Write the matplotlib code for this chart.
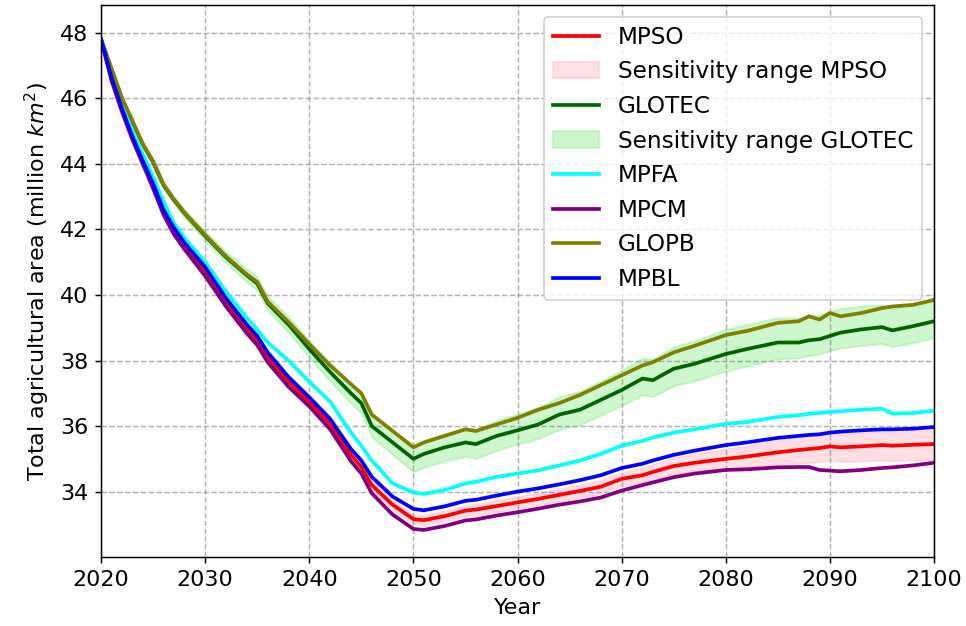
import matplotlib
matplotlib.use("Agg")
import matplotlib.pyplot as plt

years = [2020, 2021, 2022, 2023, 2024, 2025, 2026, 2027, 2028, 2030,
         2032, 2034, 2035, 2036, 2038, 2040, 2042, 2044, 2045, 2046,
         2048, 2050, 2051, 2053, 2055, 2056, 2058, 2060, 2062, 2064,
         2066, 2068, 2070, 2072, 2073, 2075, 2077, 2080, 2082, 2085,
         2087, 2088, 2089, 2090, 2091, 2093, 2095, 2096, 2098, 2100]

mpso = [47.8, 46.6, 45.65, 44.8, 44.05, 43.35, 42.55, 41.95, 41.5, 40.72,
        39.8, 38.97, 38.62, 38.1, 37.36, 36.74, 36.06, 35.12, 34.75, 34.2,
        33.6, 33.16, 33.13, 33.25, 33.42, 33.45, 33.56, 33.67, 33.78, 33.9,
        34.02, 34.15, 34.39, 34.5, 34.6, 34.78, 34.88, 35.0, 35.07, 35.2,
        35.27, 35.3, 35.33, 35.38, 35.35, 35.38, 35.42, 35.4, 35.43, 35.45]
mpso_hi = [47.8, 46.61, 45.67, 44.82, 44.08, 43.38, 42.59, 41.99, 41.55, 40.77,
           39.86, 39.04, 38.69, 38.18, 37.45, 36.84, 36.17, 35.24, 34.87, 34.33,
           33.74, 33.31, 33.28, 33.41, 33.58, 33.62, 33.73, 33.85, 33.96, 34.09,
           34.21, 34.35, 34.59, 34.72, 34.83, 35.03, 35.15, 35.3, 35.4, 35.57,
           35.67, 35.71, 35.75, 35.79, 35.77, 35.8, 35.84, 35.82, 35.85, 35.87]
mpso_lo = [47.8, 46.59, 45.63, 44.78, 44.02, 43.32, 42.51, 41.91, 41.45, 40.67,
           39.74, 38.9, 38.55, 38.02, 37.27, 36.64, 35.95, 35.0, 34.63, 34.07,
           33.46, 33.01, 32.98, 33.09, 33.26, 33.28, 33.39, 33.49, 33.6, 33.71,
           33.83, 33.95, 34.19, 34.28, 34.37, 34.53, 34.61, 34.7, 34.74, 34.83,
           34.87, 34.89, 34.91, 34.95, 34.91, 34.93, 34.96, 34.94, 34.96, 34.98]

glotec = [47.8, 46.9, 46.0, 45.3, 44.6, 44.05, 43.35, 42.9, 42.5, 41.8,
          41.15, 40.6, 40.35, 39.75, 39.1, 38.35, 37.65, 37.0, 36.7, 36.0,
          35.5, 35.0, 35.15, 35.35, 35.5, 35.45, 35.7, 35.87, 36.05, 36.35,
          36.5, 36.8, 37.1, 37.45, 37.4, 37.75, 37.9, 38.2, 38.35, 38.55,
          38.55, 38.62, 38.65, 38.75, 38.85, 38.95, 39.02, 38.92, 39.05, 39.2]
glotec_hi = [47.8, 46.92, 46.04, 45.35, 44.66, 44.13, 43.44, 43.0, 42.62, 41.95,
             41.32, 40.8, 40.55, 39.97, 39.34, 38.61, 37.93, 37.3, 37.0, 36.33,
             35.86, 35.42, 35.56, 35.77, 35.94, 35.9, 36.17, 36.37, 36.57, 36.89,
             37.06, 37.38, 37.7, 38.07, 38.04, 38.42, 38.6, 38.95, 39.1, 39.3,
             39.3, 39.37, 39.4, 39.5, 39.58, 39.66, 39.7, 39.58, 39.7, 39.82]
glotec_lo = [47.8, 46.88, 45.96, 45.25, 44.54, 43.97, 43.26, 42.8, 42.38, 41.65,
             40.98, 40.4, 40.15, 39.53, 38.86, 38.09, 37.37, 36.7, 36.4, 35.67,
             35.14, 34.6, 34.74, 34.93, 35.07, 35.01, 35.26, 35.45, 35.62, 35.9,
             36.04, 36.33, 36.63, 36.96, 36.9, 37.23, 37.38, 37.68, 37.83, 38.05,
             38.08, 38.15, 38.2, 38.3, 38.38, 38.46, 38.52, 38.42, 38.55, 38.7]

mpfa = [47.8, 46.75, 45.85, 45.0, 44.3, 43.6, 42.85, 42.2, 41.75, 41.0,
        40.1, 39.3, 38.95, 38.55, 38.0, 37.35, 36.75, 35.8, 35.4, 34.95,
        34.25, 33.97, 33.93, 34.05, 34.25, 34.3, 34.45, 34.55, 34.65, 34.8,
        34.95, 35.15, 35.4, 35.55, 35.65, 35.8, 35.9, 36.07, 36.12, 36.28,
        36.33, 36.37, 36.4, 36.43, 36.45, 36.5, 36.53, 36.38, 36.4, 36.47]
mpcm = [47.8, 46.55, 45.6, 44.75, 44.0, 43.25, 42.45, 41.85, 41.4, 40.58,
        39.65, 38.83, 38.47, 37.95, 37.2, 36.6, 35.9, 34.93, 34.55, 33.95,
        33.3, 32.86, 32.83, 32.95, 33.12, 33.15, 33.27, 33.37, 33.48, 33.6,
        33.7, 33.82, 34.03, 34.2, 34.28, 34.44, 34.55, 34.66, 34.68, 34.74,
        34.75, 34.75, 34.66, 34.64, 34.62, 34.66, 34.72, 34.74, 34.8, 34.88]
glopb = [47.8, 46.92, 46.02, 45.32, 44.62, 44.08, 43.38, 42.92, 42.52, 41.83,
         41.18, 40.63, 40.4, 39.8, 39.18, 38.5, 37.85, 37.28, 37.0, 36.35,
         35.85, 35.35, 35.5, 35.7, 35.9, 35.85, 36.05, 36.25, 36.5, 36.7,
         36.95, 37.25, 37.55, 37.85, 37.95, 38.25, 38.45, 38.78, 38.9, 39.15,
         39.2, 39.35, 39.25, 39.45, 39.35, 39.45, 39.6, 39.65, 39.7, 39.85]
mpbl = [47.8, 46.65, 45.7, 44.85, 44.1, 43.4, 42.6, 42.05, 41.6, 40.85,
        39.9, 39.1, 38.75, 38.25, 37.5, 36.88, 36.22, 35.3, 34.95, 34.45,
        33.85, 33.47, 33.43, 33.55, 33.72, 33.75, 33.88, 34.0, 34.1, 34.22,
        34.35, 34.5, 34.72, 34.85, 34.95, 35.12, 35.25, 35.42, 35.5, 35.64,
        35.7, 35.73, 35.75, 35.8, 35.83, 35.87, 35.9, 35.9, 35.92, 35.97]

plt.rcParams["font.size"] = 12

DPI = 4 * 100 / 3
fig = plt.figure(figsize=(966 / DPI, 626 / DPI), dpi=DPI)
ax = fig.add_axes([0.1046, 0.110, 0.8623, 0.882])

ax.plot(years, mpso, color="red", lw=2, label="MPSO")
ax.fill_between(years, mpso_lo, mpso_hi, color="pink", alpha=0.5,
                label="Sensitivity range MPSO")
ax.plot(years, glotec, color="darkgreen", lw=2, label="GLOTEC")
ax.fill_between(years, glotec_lo, glotec_hi, color="lightgreen", alpha=0.45,
                label="Sensitivity range GLOTEC")
ax.plot(years, mpfa, color="cyan", lw=2, label="MPFA")
ax.plot(years, mpcm, color="purple", lw=2, label="MPCM")
ax.plot(years, glopb, color="olive", lw=2, label="GLOPB")
ax.plot(years, mpbl, color="blue", lw=2, label="MPBL")

ax.set_xlim(2020, 2100)
ax.set_ylim(32.0, 48.85)
ax.set_xticks(range(2020, 2101, 10))
ax.set_yticks(range(34, 49, 2))
ax.set_xlabel("Year")
ax.set_ylabel("Total agricultural area (million $km^2$)")
ax.grid(True, linestyle="--", color="gray", alpha=0.6)
ax.legend(loc="upper right", fontsize=12.5, labelspacing=0.5)

fig.savefig("out.png", dpi=DPI)
